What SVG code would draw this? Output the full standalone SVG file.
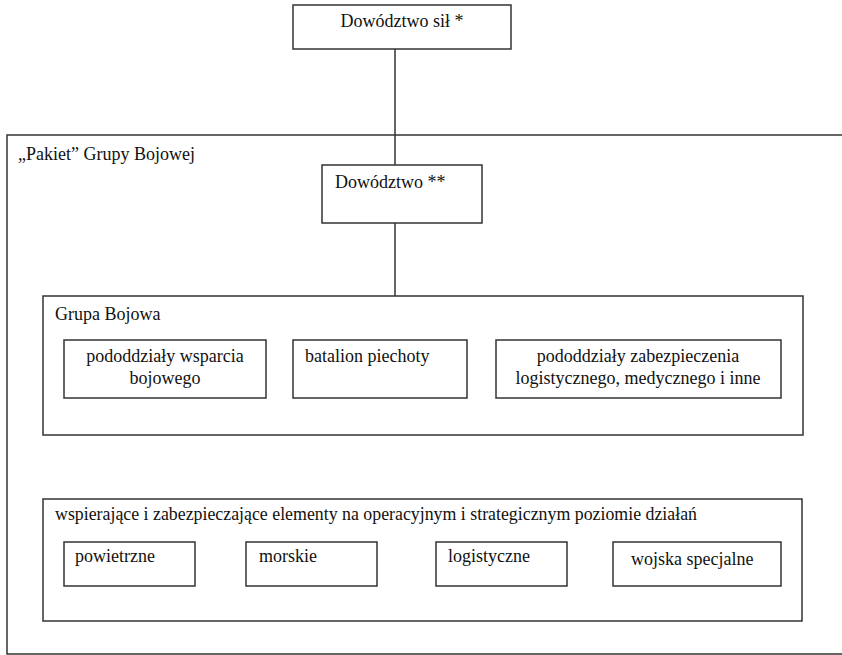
<svg xmlns="http://www.w3.org/2000/svg" width="842" height="655" viewBox="0 0 842 655">
<style>
.box{fill:#fff;stroke:#333;stroke-width:1.5}
.frame{fill:none;stroke:#333;stroke-width:1.5}
.t{font-family:"Liberation Serif","Times New Roman",serif;font-size:18px;fill:#111}
.m{text-anchor:middle}
.c{stroke:#333;stroke-width:1.5;fill:none}
</style>
<rect width="842" height="655" fill="#fff"/>
<g id="pakiet">
<rect class="frame" x="7" y="135" width="845" height="519"/>
<text class="t" x="18" y="160">„Pakiet” Grupy Bojowej</text>
</g>
<g id="connectors">
<line class="c" x1="395" y1="49" x2="395" y2="165"/>
<line class="c" x1="395" y1="223" x2="395" y2="296"/>
</g>
<g id="dowodztwo-sil">
<rect class="box" x="293" y="5" width="218" height="44"/>
<text class="t m" x="402" y="27">Dowództwo sił *</text>
</g>
<g id="dowodztwo">
<rect class="box" x="322" y="165" width="160" height="58"/>
<text class="t" x="335" y="188">Dowództwo **</text>
</g>
<g id="grupa-bojowa">
<rect class="box" x="43" y="296" width="760" height="139"/>
<text class="t" x="55" y="320">Grupa Bojowa</text>
</g>
<g id="wsparcie">
<rect class="box" x="64" y="340" width="202" height="58"/>
<text class="t m" x="165" y="362">pododdziały wsparcia</text>
<text class="t m" x="165" y="384">bojowego</text>
</g>
<g id="batalion">
<rect class="box" x="293" y="340" width="174" height="58"/>
<text class="t" x="305" y="362">batalion piechoty</text>
</g>
<g id="zabezpieczenie">
<rect class="box" x="496" y="340" width="285" height="58"/>
<text class="t m" x="638" y="362">pododdziały zabezpieczenia</text>
<text class="t m" x="638" y="384">logistycznego, medycznego i inne</text>
</g>
<g id="elementy">
<rect class="box" x="43" y="499" width="759" height="122"/>
<text class="t" x="55" y="520" textLength="642" lengthAdjust="spacingAndGlyphs">wspierające i zabezpieczające elementy na operacyjnym i strategicznym poziomie działań</text>
</g>
<g id="powietrzne">
<rect class="box" x="64" y="542" width="131" height="44"/>
<text class="t" x="75" y="562">powietrzne</text>
</g>
<g id="morskie">
<rect class="box" x="246" y="542" width="131" height="44"/>
<text class="t" x="259" y="562">morskie</text>
</g>
<g id="logistyczne">
<rect class="box" x="436" y="542" width="131" height="44"/>
<text class="t" x="448" y="562">logistyczne</text>
</g>
<g id="wojska-specjalne">
<rect class="box" x="613" y="542" width="168" height="44"/>
<text class="t" x="631" y="565">wojska specjalne</text>
</g>
</svg>
